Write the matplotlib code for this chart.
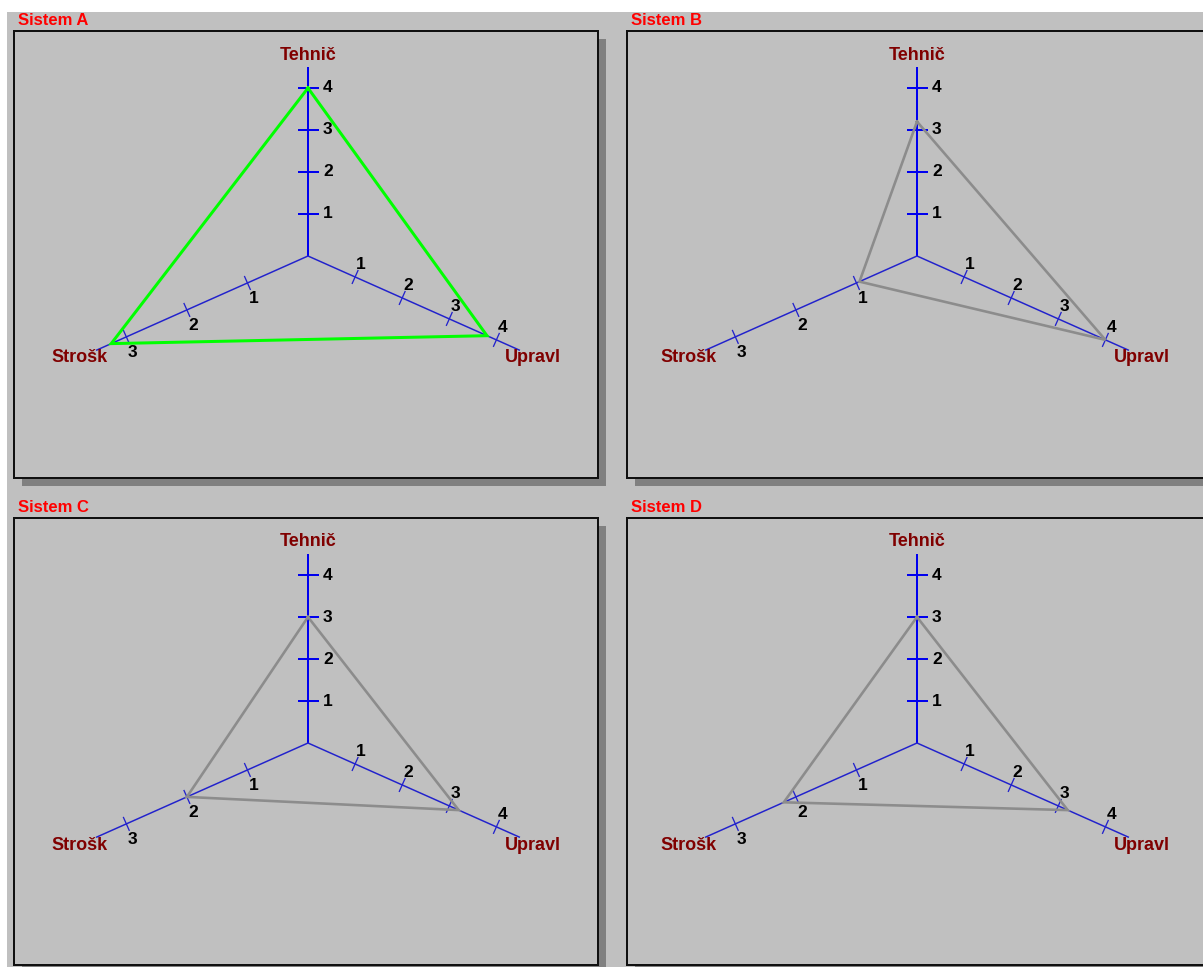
import numpy as np
import matplotlib
matplotlib.use("Agg")
import matplotlib.pyplot as plt
from matplotlib.patches import Rectangle

# ---- data ----
systems = ["Sistem A", "Sistem B", "Sistem C", "Sistem D"]
axis_names = ["Tehnič", "Upravl", "Strošk"]
axis_max = [4, 4, 3]
tehnic = [4.0, 3.2, 3.0, 3.0]
upravl = [3.8, 4.0, 3.2, 3.2]
strosk = [3.25, 0.95, 2.0, 2.2]
poly_colors = ["#00ff00", "#8c8c8c", "#8c8c8c", "#8c8c8c"]

W, H = 1203, 967
DPI = 100
PT = 72.0 / DPI  # points per pixel

fig = plt.figure(figsize=(W / DPI, H / DPI), dpi=DPI, facecolor="white")
ax = fig.add_axes([0, 0, 1, 1])
ax.set_xlim(0, W)
ax.set_ylim(H, 0)
ax.axis("off")

BG = "#c0c0c0"
FONT = dict(family=["Liberation Sans", "DejaVu Sans"], weight="bold")

ax.add_patch(Rectangle((7, 12), W - 7, H - 12, facecolor=BG, edgecolor="none", zorder=0))

ang = np.deg2rad(24)
dirs = {
    "Tehnič": (0.0, -1.0, 189.0),
    "Upravl": (np.cos(ang), np.sin(ang), 232.0),
    "Strošk": (-np.cos(ang), np.sin(ang), 232.0),
}
origins = [(14, 31), (627, 31), (14, 518), (627, 518)]
center_dx = [294, 290, 294, 290]
FW, FH = 584, 447


def draw_panel(i):
    ox, oy = origins[i]
    # shadow + frame
    ax.add_patch(Rectangle((ox + 8, oy + 8), FW, FH, facecolor="#808080", edgecolor="none", zorder=1))
    ax.add_patch(Rectangle((ox, oy), FW, FH, facecolor=BG, edgecolor="#101010",
                           linewidth=2 * PT, zorder=2))
    ax.text(ox + 4, oy - 10.5, systems[i], color="#ff0000", fontsize=12, ha="left",
            va="center", zorder=6, **FONT)
    cx, cy = ox + center_dx[i], oy + 225
    units = {}
    for name, mx in zip(axis_names, axis_max):
        dx, dy, L = dirs[name]
        u = L / (mx + 0.5)
        units[name] = u
        lw = 2.0 if name == "Tehnič" else 1.5
        col = "#0000ee" if name == "Tehnič" else "#2222cc"
        ax.plot([cx, cx + dx * L], [cy, cy + dy * L], color=col, lw=lw * PT,
                solid_capstyle="butt", zorder=3)
        # perpendicular
        px, py = -dy, dx
        for k in range(1, mx + 1):
            tx, ty = cx + dx * u * k, cy + dy * u * k
            if name == "Tehnič":
                ax.plot([tx - 9.5, tx + 9.5], [ty, ty], color=col, lw=2.0 * PT, zorder=3)
                ax.text(tx + 15, ty, str(k), fontsize=12.5, ha="left", va="center",
                        color="black", zorder=6, **FONT)
            else:
                ax.plot([tx - px * 7, tx + px * 7], [ty - py * 7, ty + py * 7], color=col,
                        lw=1.3 * PT, zorder=3)
                if name == "Upravl":
                    ax.text(tx + 6, ty - 12, str(k), fontsize=12.5, ha="center", va="center",
                            color="black", zorder=6, **FONT)
                else:
                    ax.text(tx + 6, ty + 16, str(k), fontsize=12.5, ha="center", va="center",
                            color="black", zorder=6, **FONT)
    # axis names
    name_pos = {"Tehnič": (0, -201), "Upravl": (225, 102), "Strošk": (-228, 102)}
    for name in axis_names:
        nx, ny = name_pos[name]
        ax.text(cx + nx, cy + ny, name, color="#800000", fontsize=13, ha="center",
                va="center", zorder=6, **FONT)
    # polygon
    vals = {"Tehnič": tehnic[i], "Upravl": upravl[i], "Strošk": strosk[i]}
    xs, ys = [], []
    for name in axis_names + [axis_names[0]]:
        dx, dy, L = dirs[name]
        r = vals[name] * units[name]
        xs.append(cx + dx * r)
        ys.append(cy + dy * r)
    ax.plot(xs, ys, color=poly_colors[i], lw=(3.0 if i == 0 else 2.6) * PT,
            solid_joinstyle="miter", zorder=4)


for i in range(4):
    draw_panel(i)

fig.savefig("out.png", dpi=DPI, facecolor="white")
